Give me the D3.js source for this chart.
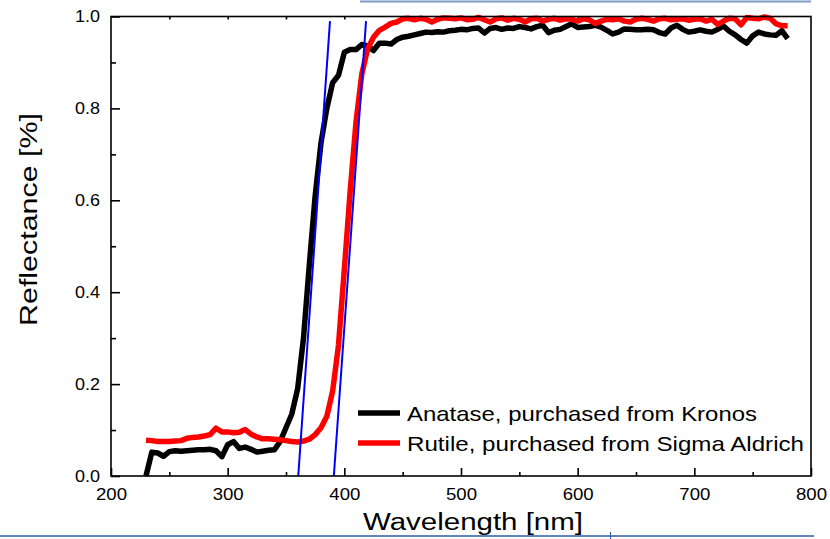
<!DOCTYPE html>
<html><head><meta charset="utf-8">
<script src="https://cdn.jsdelivr.net/npm/d3@7/dist/d3.min.js"></script>
<style>body{margin:0;background:#fff}svg{display:block}text{font-family:"Liberation Sans",Arial,sans-serif;fill:#000}</style>
</head><body>
<svg id="c" width="830" height="539"></svg>
<script>
const wavelength = [230,235,240,245,250,255,260,265,270,275,280,285,290,295,300,305,310,315,320,325,330,335,340,345,350,355,360,365,370,375,380,385,390,395,400,405,410,415,420,425,430,435,440,445,450,455,460,465,470,475,480,485,490,495,500,505,510,515,520,525,530,535,540,545,550,555,560,565,570,575,580,585,590,595,600,605,610,615,620,625,630,635,640,645,650,655,660,665,670,675,680,685,690,695,700,705,710,715,720,725,730,735,740,745,750,755,760,765,770,775,780];
const anatase = [0.000,0.052,0.050,0.043,0.053,0.055,0.054,0.055,0.056,0.057,0.057,0.058,0.055,0.042,0.068,0.075,0.060,0.063,0.058,0.052,0.054,0.056,0.057,0.075,0.105,0.135,0.190,0.300,0.460,0.610,0.725,0.800,0.856,0.872,0.922,0.928,0.928,0.939,0.936,0.926,0.942,0.942,0.940,0.950,0.955,0.957,0.960,0.963,0.966,0.965,0.967,0.966,0.969,0.970,0.972,0.971,0.974,0.975,0.964,0.974,0.976,0.972,0.975,0.974,0.978,0.976,0.973,0.978,0.981,0.965,0.970,0.972,0.978,0.984,0.976,0.977,0.978,0.981,0.977,0.970,0.962,0.966,0.973,0.972,0.971,0.971,0.972,0.971,0.965,0.962,0.975,0.981,0.972,0.966,0.968,0.971,0.968,0.966,0.972,0.979,0.968,0.960,0.950,0.942,0.958,0.966,0.962,0.960,0.959,0.969,0.952];
const rutile = [0.078,0.077,0.075,0.075,0.075,0.076,0.077,0.082,0.084,0.085,0.087,0.090,0.104,0.096,0.096,0.094,0.095,0.101,0.091,0.085,0.081,0.081,0.080,0.079,0.077,0.075,0.074,0.076,0.080,0.090,0.105,0.130,0.185,0.285,0.450,0.620,0.770,0.875,0.930,0.955,0.970,0.977,0.985,0.988,0.995,0.996,0.993,0.996,0.994,0.988,0.994,0.997,0.996,0.995,0.997,0.993,0.994,0.998,0.993,0.988,0.995,0.997,0.992,0.996,0.994,0.988,0.995,0.996,0.990,0.994,0.996,0.992,0.995,0.994,0.990,0.995,0.993,0.985,0.990,0.994,0.993,0.995,0.990,0.988,0.994,0.996,0.994,0.990,0.995,0.996,0.993,0.994,0.995,0.992,0.994,0.995,0.990,0.994,0.983,0.990,0.996,0.995,0.982,0.998,0.996,0.995,0.999,0.996,0.984,0.980,0.980];
// tangent (band-edge) lines: [wavelength, reflectance] end points
const tangentAnatase = [[360.5,0],[387.7,0.99]];
const tangentRutile = [[391.0,0],[418.6,0.99]];
const seriesNames = ["Anatase, purchased from Kronos","Rutile, purchased from Sigma Aldrich"];
const xMajorTicks = [200,300,400,500,600,700,800];
const xMinorTicks = [250,350,450,550,650,750];
const yMajorTicks = [0,0.2,0.4,0.6,0.8,1.0];
const yMinorTicks = [0.1,0.3,0.5,0.7,0.9];
const xTitle = "Wavelength [nm]";
const yTitle = "Reflectance [%]";

const svg = d3.select("#c");
const L=111,R=811,T=16.5,B=476;
const x = d3.scaleLinear().domain([200,800]).range([L,R]);
const y = d3.scaleLinear().domain([0,1]).range([B,T]);

// slide decoration lines
svg.append("line").attr("x1",360).attr("x2",811).attr("y1",1.5).attr("y2",1.5).attr("stroke","#7f9cc6").attr("stroke-width",2);
svg.append("line").attr("x1",0).attr("x2",814).attr("y1",536).attr("y2",536).attr("stroke","#2f5aa6").attr("stroke-width",1.5);
svg.append("line").attr("x1",610.5).attr("x2",610.5).attr("y1",532).attr("y2",539).attr("stroke","#2f5aa6").attr("stroke-width",1);

// axes
const gx = svg.append("g").attr("transform",`translate(0,${B})`)
  .call(d3.axisBottom(x).tickValues(xMajorTicks).tickSize(-8).tickSizeOuter(0).tickPadding(12).tickFormat(d3.format("d")));
const gxm = svg.append("g").attr("transform",`translate(0,${B})`)
  .call(d3.axisBottom(x).tickValues(xMinorTicks).tickSize(-4).tickSizeOuter(0).tickFormat(""));
const gxt = svg.append("g").attr("transform",`translate(0,${T})`)
  .call(d3.axisTop(x).tickValues(xMinorTicks.concat(xMajorTicks.slice(1,-1))).tickSize(-3).tickSizeOuter(0).tickFormat(""));
const gy = svg.append("g").attr("transform",`translate(${L},0)`)
  .call(d3.axisLeft(y).tickValues(yMajorTicks).tickSize(-9).tickSizeOuter(0).tickPadding(11).tickFormat(d3.format(".1f")));
const gym = svg.append("g").attr("transform",`translate(${L},0)`)
  .call(d3.axisLeft(y).tickValues(yMinorTicks).tickSize(-5).tickSizeOuter(0).tickFormat(""));
[gx,gxm,gxt,gy,gym].forEach(g=>{
  g.select(".domain").remove();
  g.selectAll(".tick line").attr("stroke","#000").attr("stroke-width",1.6);
});
gx.selectAll("text").attr("font-size",17).attr("font-family","Liberation Sans, Arial").attr("textLength",31).attr("lengthAdjust","spacingAndGlyphs");
gy.selectAll("text").attr("font-size",17).attr("font-family","Liberation Sans, Arial").attr("textLength",25).attr("lengthAdjust","spacingAndGlyphs");

// curves
const line = d3.line().x(d=>x(d[0])).y(d=>y(d[1]));
svg.append("path").datum(wavelength.map((w,i)=>[w,anatase[i]])).attr("d",line)
  .attr("fill","none").attr("stroke","#000").attr("stroke-width",5.5).attr("stroke-linejoin","round");
svg.append("path").datum(wavelength.map((w,i)=>[w,rutile[i]])).attr("d",line)
  .attr("fill","none").attr("stroke","#ff0000").attr("stroke-width",5.5).attr("stroke-linejoin","round");
[tangentAnatase,tangentRutile].forEach(t=>{
  svg.append("path").datum(t).attr("d",line).attr("fill","none").attr("stroke","#0000ff").attr("stroke-width",2);
});

// frame
svg.append("rect").attr("x",L).attr("y",T).attr("width",R-L).attr("height",B-T)
  .attr("fill","none").attr("stroke","#000").attr("stroke-width",1.6);

// legend
const legColors = ["#000","#ff0000"];
const legLens = [350,397];
seriesNames.forEach((n,i)=>{
  const yy = 413 + i*30;
  svg.append("line").attr("x1",358).attr("x2",400).attr("y1",yy).attr("y2",yy).attr("stroke",legColors[i]).attr("stroke-width",5.5);
  svg.append("text").attr("x",407).attr("y",yy+7.5).attr("font-size",21).text(n)
    .attr("textLength",legLens[i]).attr("lengthAdjust","spacingAndGlyphs");
});

// titles
svg.append("text").attr("x",473).attr("y",530).attr("text-anchor","middle").attr("font-size",23.5)
  .attr("textLength",220).attr("lengthAdjust","spacingAndGlyphs").text(xTitle);
svg.append("text").attr("transform","translate(37,219.5) rotate(-90)").attr("text-anchor","middle").attr("font-size",23.5)
  .attr("textLength",213).attr("lengthAdjust","spacingAndGlyphs").text(yTitle);
</script>
</body></html>
